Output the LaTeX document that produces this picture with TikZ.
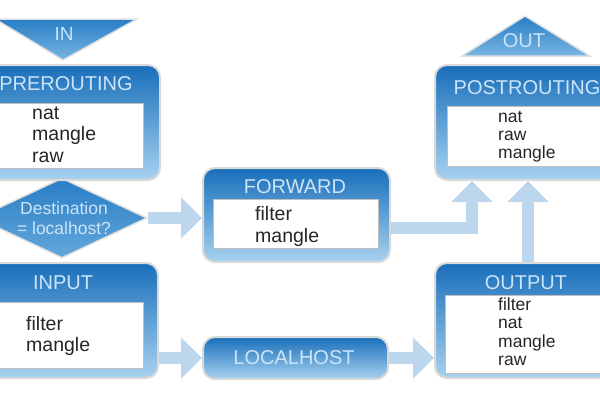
\documentclass[tikz,border=0pt]{standalone}
\usepackage{fontspec}
\setmainfont{Liberation Sans}
\usetikzlibrary{shapes.geometric,arrows.meta}
\definecolor{boxtop}{RGB}{24,110,186}
\definecolor{boxbot}{RGB}{168,210,240}
\definecolor{titlecol}{RGB}{204,228,247}
\definecolor{flowcol}{RGB}{188,215,237}
\definecolor{tritop}{RGB}{40,125,196}
\definecolor{tribot}{RGB}{120,182,228}
\tikzset{chainbox/.style={rectangle, rounded corners=12pt, top color=boxtop, bottom color=boxbot, draw=black!15, line width=2pt, inner sep=0pt}}
\tikzset{tablebox/.style={rectangle, fill=white, draw=black!25, line width=0.6pt, inner sep=0pt}}
\tikzset{decision/.style={diamond, top color=tritop, bottom color=tribot!80!boxtop, draw=black!12, line width=1.5pt, inner sep=0pt}}
\tikzset{chaintitle/.style={text=titlecol, font=\fontsize{20}{22}\selectfont, inner sep=0pt}}
\tikzset{qtext/.style={text=titlecol, font=\fontsize{17.5}{20}\selectfont, align=center, inner sep=0pt}}
\tikzset{tablelist/.style={text=black!85, align=left, anchor=north west, inner sep=0pt}}
\tikzset{flow/.style={draw=flowcol, line width=12pt, -{Triangle[width=40pt,length=21pt]}}}

\begin{document}
\begin{tikzpicture}[x=1pt,y=-1pt]
\useasboundingbox (0,0) rectangle (600,400);
\clip (0,0) rectangle (600,400);

% entry and exit
\fill[top color=tritop, bottom color=tribot, draw=black!12, line width=1.5pt] (-5,19) -- (137,19) -- (63,60) -- cycle;
\node (in) [chaintitle, font=\fontsize{19}{21}\selectfont] at (64,34) {IN};
\fill[top color=tritop, bottom color=tribot, draw=black!12, line width=1.5pt] (525,16) -- (590,56) -- (462,56) -- cycle;
\node (out) [chaintitle] at (524,41) {OUT};

% routing decision
\node (dest) [decision, minimum width=170pt, minimum height=80pt] at (62,218) {};
\node (dest-q) [qtext] at (64,218) {Destination\\= localhost?};

% chains
\node (prert) [chainbox, minimum width=180pt, minimum height=115pt] at (70,122.5) {};
\node (prert-t) [tablebox, minimum width=160pt, minimum height=65pt] at (63,135.5) {};
\node (prert-n) [chaintitle] at (66,84) {PREROUTING};
\node (prert-l) [tablelist, font=\fontsize{19.5}{21.5}\selectfont] at (32,104) {\strut nat\\mangle\\raw};

\node (inp) [chainbox, minimum width=178pt, minimum height=115pt] at (69,320.5) {};
\node (inp-t) [tablebox, minimum width=160pt, minimum height=66pt] at (63,335) {};
\node (inp-n) [chaintitle] at (63,283) {INPUT};
\node (inp-l) [tablelist, font=\fontsize{19.5}{21}\selectfont] at (26,315.3) {\strut filter\\mangle};

\node (fwd) [chainbox, minimum width=187pt, minimum height=94pt] at (296.5,215) {};
\node (fwd-t) [tablebox, minimum width=165pt, minimum height=49pt] at (295.5,223.5) {};
\node (fwd-n) [chaintitle] at (295,187) {FORWARD};
\node (fwd-l) [tablelist, font=\fontsize{19.5}{22}\selectfont] at (255,204.6) {\strut filter\\mangle};

\node (lh) [chainbox, minimum width=185pt, minimum height=42pt] at (295.5,358) {};
\node (lh-n) [chaintitle] at (294,358) {LOCALHOST};

\node (post) [chainbox, minimum width=186pt, minimum height=115pt] at (528,122.5) {};
\node (post-t) [tablebox, minimum width=180pt, minimum height=60pt] at (537,136) {};
\node (post-n) [chaintitle] at (527,88) {POSTROUTING};
\node (post-l) [tablelist, font=\fontsize{17.5}{18}\selectfont] at (498,109.4) {\strut nat\\raw\\mangle};

\node (outp) [chainbox, minimum width=186pt, minimum height=115pt] at (528,320.5) {};
\node (outp-t) [tablebox, minimum width=180pt, minimum height=78pt] at (535,334) {};
\node (outp-n) [chaintitle] at (526,283) {OUTPUT};
\node (outp-l) [tablelist, font=\fontsize{17.5}{18.5}\selectfont] at (498,297) {\strut filter\\nat\\mangle\\raw};

% packet flow
\draw [flow] (dest.east) -- (dest.east -| fwd.west);
\draw [flow] ([yshift=-13pt]fwd.east) -| ([xshift=-56pt]post.south);
\draw [flow] (outp.north) -- (post.south);
\draw [flow] (inp.east |- lh.west) -- (lh.west);
\draw [flow] (lh.east) -- (lh.east -| outp.west);
\end{tikzpicture}
\end{document}
